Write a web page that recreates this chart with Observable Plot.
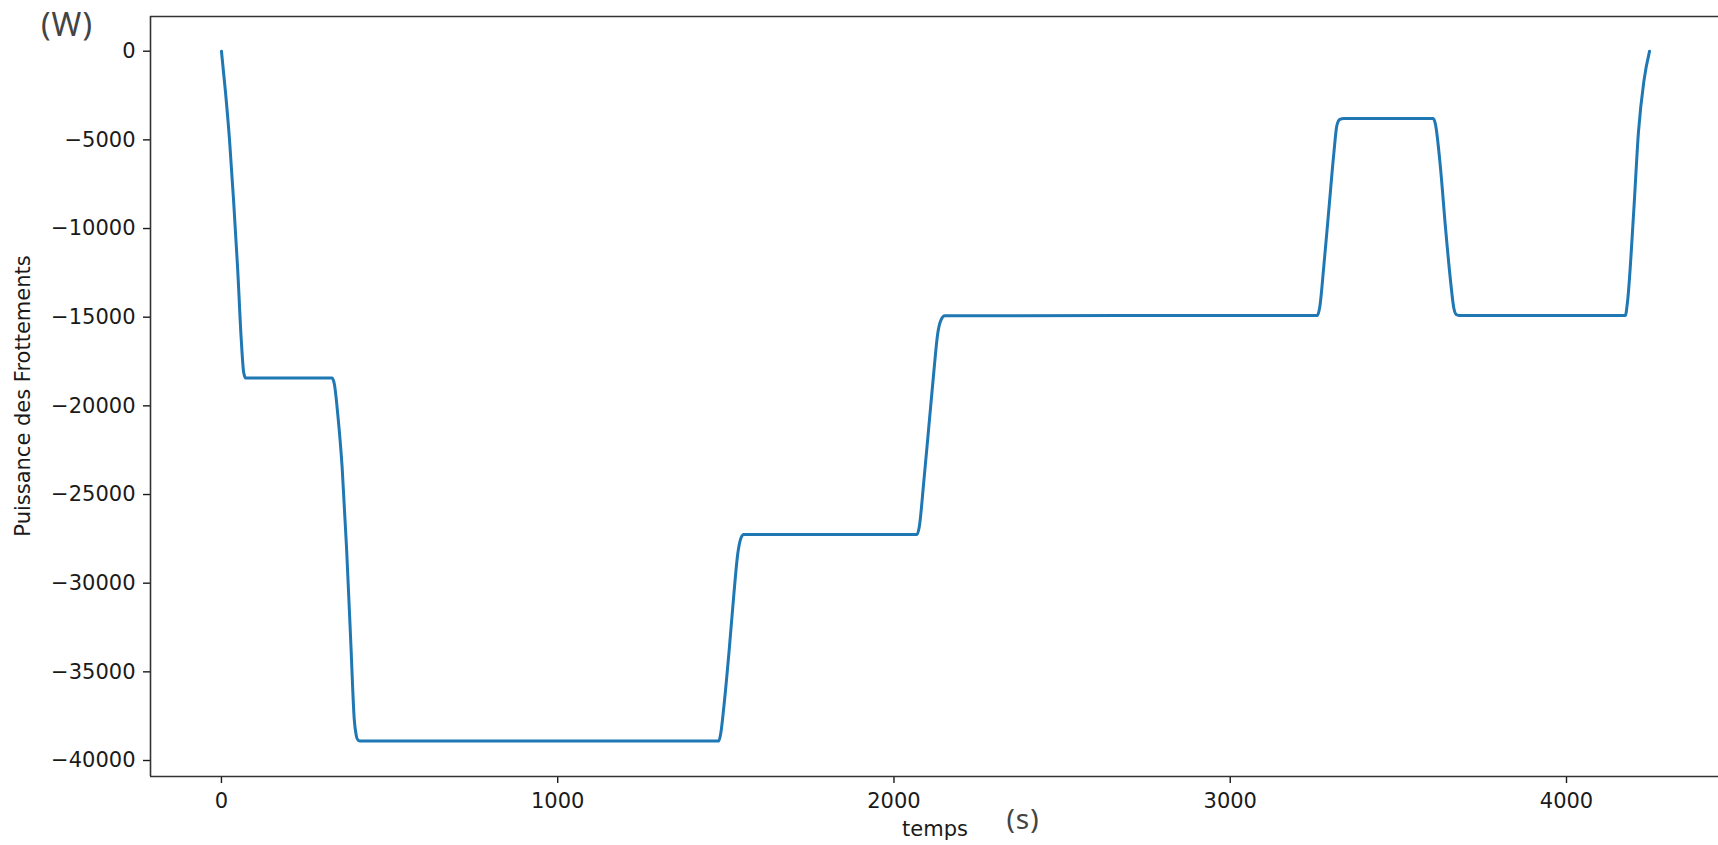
<!DOCTYPE html>
<html>
<head>
<meta charset="utf-8">
<script src="https://cdn.jsdelivr.net/npm/d3@7"></script>
<script src="https://cdn.jsdelivr.net/npm/@observablehq/plot@0.6"></script>
<style>
  html, body { margin: 0; padding: 0; background: #fff; }
  #chart svg { display: block; }
</style>
</head>
<body>
<div id="chart"></div>
<script>
// Time (s) and friction power (W)
const temps = [
  0, 12, 24, 36, 48, 59, 66, 72,
  329, 336, 346, 359, 372, 385, 395, 401, 406, 413,
  1479, 1485, 1494, 1509, 1524, 1535.5, 1545, 1553,
  2069, 2075, 2089, 2103.5, 2118, 2130, 2140, 2151,
  3259, 3266, 3278, 3293, 3308, 3317, 3326, 3338,
  3603.5, 3610, 3625, 3640, 3655, 3665, 3672, 3680,
  4175, 4181, 4200, 4214, 4230, 4247
];
const puissance = [
  0, -2300, -5000, -8400, -12200, -16300, -18100, -18430,
  -18430, -18800, -20500, -23500, -28000, -33500, -37700, -38600, -38850, -38900,
  -38900, -38450, -36980, -33970, -30590, -28330, -27450, -27250,
  -27250, -26850, -24200, -21200, -18190, -15930, -15150, -14920,
  -14900, -14450, -12180, -8980, -5780, -4200, -3850, -3800,
  -3800, -4100, -6540, -9920, -12930, -14500, -14850, -14900,
  -14900, -14200, -9000, -4550, -1700, 0
];
const xTicks = [0, 1000, 2000, 3000, 4000];
const yTicks = [0, -5000, -10000, -15000, -20000, -25000, -30000, -35000, -40000];
const xDomain = [-211, 4452];
const yDomain = [-40902, 1957];

const data = temps.map((t, i) => ({t, p: puissance[i]}));
const fmt = d => d < 0 ? "\u2212" + Math.abs(d) : String(d);

const spine = {stroke: "#333", strokeWidth: 1.6};

const chart = Plot.plot({
  width: 1718,
  height: 845,
  marginLeft: 150,
  marginRight: 0,
  marginTop: 16,
  marginBottom: 69,
  style: {fontFamily: "DejaVu Sans", fontSize: "21px", color: "#1a1a1a", background: "#fff"},
  x: {domain: xDomain},
  y: {domain: yDomain},
  marks: [
    Plot.axisX({ticks: xTicks, tickSize: 7, tickPadding: 10, tickFormat: fmt, label: null, strokeWidth: 1.4}),
    Plot.axisY({ticks: yTicks, tickSize: 7, tickPadding: 8, tickFormat: fmt, label: null, strokeWidth: 1.4}),
    Plot.ruleX([xDomain[0]], spine),
    Plot.ruleY([yDomain[0]], spine),
    Plot.ruleY([yDomain[1]], spine),
    Plot.line(data, {x: "t", y: "p", stroke: "#1f77b4", strokeWidth: 3, curve: "monotone-x", strokeLinecap: "round", strokeLinejoin: "round"})
  ]
});

document.getElementById("chart").appendChild(chart);

const svg = d3.select(chart);
svg.append("text")
  .attr("transform", "translate(30,396) rotate(-90)")
  .attr("text-anchor", "middle")
  .attr("font-family", "DejaVu Sans")
  .attr("font-size", 21)
  .attr("fill", "#1a1a1a")
  .text("Puissance des Frottements");
svg.append("text")
  .attr("x", 935).attr("y", 836)
  .attr("text-anchor", "middle")
  .attr("font-family", "DejaVu Sans")
  .attr("font-size", 21)
  .attr("fill", "#1a1a1a")
  .text("temps");
svg.append("text")
  .attr("x", 67).attr("y", 36)
  .attr("text-anchor", "middle")
  .attr("font-family", "Noto Sans")
  .attr("font-size", 32)
  .attr("letter-spacing", 1)
  .attr("fill", "#444")
  .text("(W)");
svg.append("text")
  .attr("x", 1023).attr("y", 829)
  .attr("text-anchor", "middle")
  .attr("font-family", "Noto Sans")
  .attr("font-size", 28)
  .attr("letter-spacing", 1)
  .attr("fill", "#444")
  .text("(s)");
</script>
</body>
</html>
